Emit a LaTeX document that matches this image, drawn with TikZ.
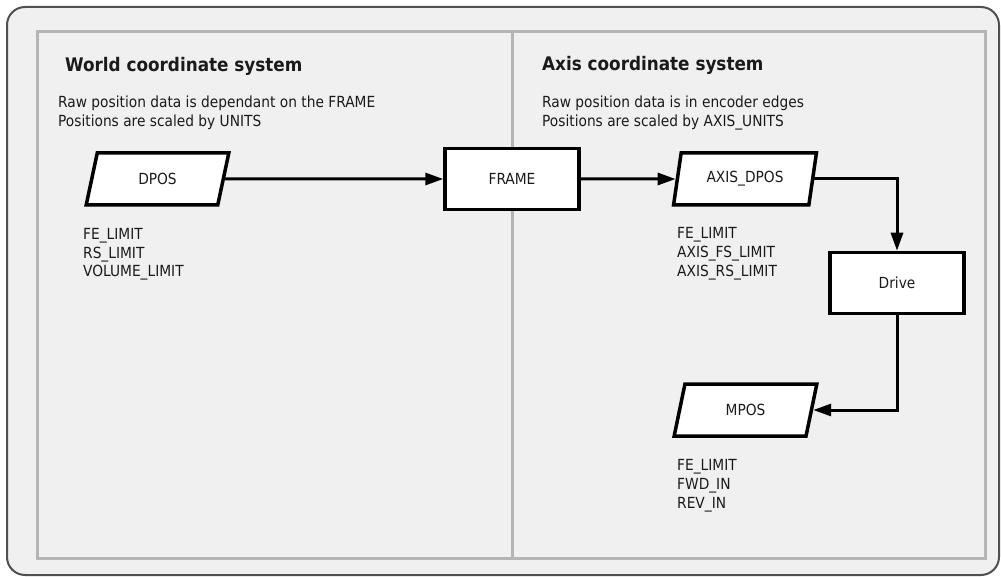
\documentclass[tikz,border=0pt]{standalone}
\usepackage{fontspec}
\setmainfont{DejaVu Sans Condensed}
\usetikzlibrary{arrows.meta,shapes.geometric}
\definecolor{panelfill}{HTML}{F0F0F0}
\definecolor{panelline}{HTML}{B5B5B5}
\definecolor{frameline}{HTML}{505050}
\definecolor{txt}{HTML}{1A1A1A}
\tikzset{
  boxnode/.style={draw=black,fill=white,line width=3.5pt,rectangle,minimum width=134pt,minimum height=61pt,inner sep=0pt,font=\fontsize{15.3}{17}\selectfont,text=txt},
  paranode/.style={draw=black,fill=white,line width=3.5pt,trapezium,trapezium left angle=73,trapezium right angle=107,trapezium stretches=true,minimum width=143pt,minimum height=52pt,inner sep=0pt,font=\fontsize{15.3}{17}\selectfont,text=txt},
  titletext/.style={anchor=base west,inner sep=0pt,font=\bfseries\fontsize{18.7}{22}\selectfont,text=txt},
  bodytext/.style={anchor=base west,inner sep=0pt,font=\fontsize{15.3}{17}\selectfont,text=txt},
  conn/.style={line width=3pt,-{Triangle[length=18pt,width=12pt]}},
}
\begin{document}
\begin{tikzpicture}[x=1pt,y=-1pt]
\useasboundingbox (0,0) rectangle (1001,577);
\fill[white] (0,0) rectangle (1001,577);
\draw[frameline,fill=panelfill,line width=2pt,rounded corners=18pt] (7,7) rectangle (999,575);
\draw[panelline,fill=panelfill,line width=3pt] (37,32) rectangle (985,558);
\draw[panelline,line width=3pt] (512,32) -- (512,558);

\node[titletext] (t1) at (65,72) {World coordinate system};
\node[titletext] (t2) at (542,71) {Axis coordinate system};
\node[bodytext] (d1a) at (58,108) {Raw position data is dependant on the FRAME};
\node[bodytext] (d1b) at (58,127) {Positions are scaled by UNITS};
\node[bodytext] (d2a) at (542,108) {Raw position data is in encoder edges};
\node[bodytext] (d2b) at (542,127) {Positions are scaled by AXIS\_UNITS};

\node[paranode] (dpos) at (157.5,179) {DPOS};
\node[boxnode] (frame) at (512,179) {FRAME};
\node[paranode] (adpos) at (745,179) {AXIS\_DPOS};
\node[boxnode] (drive) at (897,283) {Drive};
\node[paranode] (mpos) at (745.5,410) {MPOS};

\node[bodytext] (l1a) at (83,240) {FE\_LIMIT};
\node[bodytext] (l1b) at (83,258.5) {RS\_LIMIT};
\node[bodytext] (l1c) at (83,277) {VOLUME\_LIMIT};
\node[bodytext] (l2a) at (677,239) {FE\_LIMIT};
\node[bodytext] (l2b) at (677,258) {AXIS\_FS\_LIMIT};
\node[bodytext] (l2c) at (677,277) {AXIS\_RS\_LIMIT};
\node[bodytext] (l3a) at (677,470) {FE\_LIMIT};
\node[bodytext] (l3b) at (677,489) {FWD\_IN};
\node[bodytext] (l3c) at (677,508) {REV\_IN};

\draw[conn] (dpos.east) -- (frame.west);
\draw[conn] (frame.east) -- (adpos.west);
\draw[conn] (adpos.east) -| (drive.north);
\draw[conn] (drive.south) |- (mpos.east);
\end{tikzpicture}
\end{document}
